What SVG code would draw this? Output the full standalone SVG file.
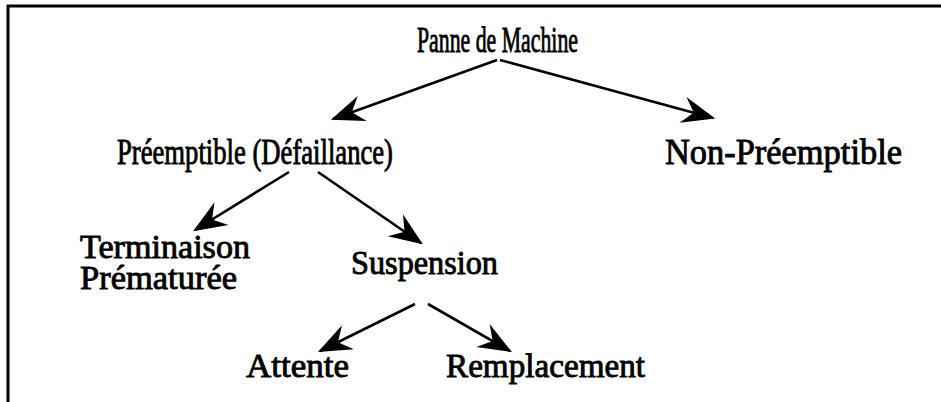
<svg xmlns="http://www.w3.org/2000/svg" width="941" height="402" viewBox="0 0 941 402">
<defs>
<marker id="ah" markerUnits="userSpaceOnUse" markerWidth="40" markerHeight="40" refX="0" refY="0" viewBox="-32 -16 36 32" orient="auto" overflow="visible">
<path d="M2,0 L-28,-12 L-18,0 L-28,12 Z" fill="#000"/>
</marker>
<style>
.t{font-family:"Liberation Serif","Times New Roman",serif;font-size:34px;fill:#000;stroke:#000;stroke-width:0.9}
.big{font-size:36px}
.c line{stroke:#000;stroke-width:2.6;fill:none;marker-end:url(#ah)}
</style>
</defs>
<rect width="941" height="402" fill="#fff"/>
<path d="M8,402 L8,6 L941,6" fill="none" stroke="#000" stroke-width="3"/>
<g id="n-panne"><text class="t big" x="417" y="52" textLength="161" lengthAdjust="spacingAndGlyphs">Panne de Machine</text></g>
<g id="n-preemptible"><text class="t big" x="117" y="164" textLength="276" lengthAdjust="spacingAndGlyphs">Préemptible (Défaillance)</text></g>
<g id="n-nonpreemptible"><text class="t big" x="665" y="164" textLength="237" lengthAdjust="spacingAndGlyphs">Non-Préemptible</text></g>
<g id="n-terminaison"><text class="t" x="80" y="258" textLength="170" lengthAdjust="spacingAndGlyphs">Terminaison</text><text class="t" x="80" y="289" textLength="157" lengthAdjust="spacingAndGlyphs">Prématurée</text></g>
<g id="n-suspension"><text class="t" x="351" y="274" textLength="147" lengthAdjust="spacingAndGlyphs">Suspension</text></g>
<g id="n-attente"><text class="t" x="246" y="377" textLength="103" lengthAdjust="spacingAndGlyphs">Attente</text></g>
<g id="n-remplacement"><text class="t" x="446" y="377" textLength="199" lengthAdjust="spacingAndGlyphs">Remplacement</text></g>
<g class="c" id="connectors">
<line x1="497" y1="60" x2="333" y2="119"/>
<line x1="500" y1="60" x2="713" y2="118"/>
<line x1="289" y1="172" x2="195" y2="230"/>
<line x1="318" y1="172" x2="421" y2="243"/>
<line x1="415" y1="304" x2="320" y2="351"/>
<line x1="428" y1="304" x2="510" y2="351"/>
</g>
</svg>
